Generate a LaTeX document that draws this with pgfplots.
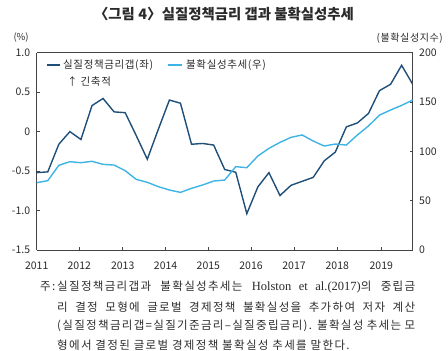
\documentclass[border=0pt]{standalone}
\usepackage{fontspec}
\setmainfont{Noto Sans CJK KR}
\newfontfamily\notefont{Noto Sans CJK KR}[LetterSpace=11.5]
\newfontfamily\legfont{Noto Sans CJK KR}[LetterSpace=6]
\newfontfamily\noteserif{Liberation Serif}
\usepackage{pgfplots}
\pgfplotsset{compat=1.18}
\definecolor{darkline}{HTML}{1F4E79}
\definecolor{lightline}{HTML}{3DB4E5}
\definecolor{axisgray}{HTML}{444444}
\definecolor{txt}{HTML}{2A2A2A}
\pgfplotstableread{
i gap trend
0 -0.52 68.2
1 -0.51 70.3
2 -0.16 85.8
3 0.00 89.5
4 -0.10 88.5
5 0.33 89.9
6 0.42 86.8
7 0.25 86.1
8 0.24 80.4
9 -0.05 71.6
10 -0.35 68.6
11 0.03 64.2
12 0.40 60.8
13 0.36 58.4
14 -0.16 62.5
15 -0.15 65.9
16 -0.17 69.9
17 -0.48 70.9
18 -0.515 84.5
19 -1.04 83.4
20 -0.70 95.3
21 -0.52 103.0
22 -0.81 109.1
23 -0.68 114.2
24 -0.63 116.6
25 -0.58 110.5
26 -0.37 105.4
27 -0.26 107.4
28 0.06 106.4
29 0.11 116.6
30 0.23 125.7
31 0.52 136.8
32 0.60 141.9
33 0.84 146.6
34 0.60 152.0
}\datatable
\begin{document}
\begin{tikzpicture}[x=1pt,y=1pt]
\path[use as bounding box] (0,0) rectangle (448,351);
\pgfplotsset{
  common/.style={
    scale only axis, width=376pt, height=197.3pt,
    at={(36.7pt,101pt)}, anchor=south west,
    xmin=0, xmax=34,
    axis line style={axisgray, line width=0.6pt},
    major tick style={axisgray, line width=0.6pt},
    major tick length=3pt,
    tick align=inside,
    ticklabel style={font=\fontsize{10.5}{12}\selectfont, text=txt},
    /pgf/number format/assume math mode=true,
  }
}
\begin{axis}[common,
  ymin=-1.5, ymax=1.0,
  axis y line*=left, axis x line*=bottom,
  ytick={-1.5,-1.0,-0.5,0,0.5,1.0},
  yticklabels={-1.5,-1.0,-0.5,0,0.5,1.0},
  yticklabel style={xshift=-3pt},
  xtick={0,3.85,7.78,11.66,15.52,19.38,23.27,27.18,31.16},
  xticklabels={2011,2012,2013,2014,2015,2016,2017,2018,2019},
  xticklabel style={yshift=-8.5pt},
]
\addplot[darkline, line width=1.4pt] table[x=i, y=gap] {\datatable};
\end{axis}
\begin{axis}[common,
  ymin=0, ymax=200,
  axis y line*=right, axis x line*=top,
  ytick={0,50,100,150,200},
  yticklabel style={xshift=3pt},
  xtick=\empty,
]
\addplot[lightline, line width=1.4pt] table[x=i, y=trend] {\datatable};
\end{axis}
% title
\node[font=\fontsize{14.4}{16}\selectfont\bfseries, text=txt] at (224,337) {〈그림 4〉\kern-0.2em{} 실질정책금리 갭과 불확실성추세};
\node[anchor=west, font=\fontsize{9.5}{11}\selectfont, text=txt] at (10,313) {(\%)};
\node[anchor=east, font=\legfont\fontsize{10}{11}\selectfont, text=txt, inner sep=0pt] at (443,313) {(불확실성지수)};
% legend
\draw[darkline, line width=1.4pt] (47,286) -- (60,286);
\node[anchor=west, inner sep=0pt, font=\legfont\fontsize{10.5}{12}\selectfont, text=txt] at (63,286) {실질정책금리갭(좌)};
\draw[lightline, line width=1.4pt] (168,286) -- (182,286);
\node[anchor=west, inner sep=0pt, font=\legfont\fontsize{10.5}{12}\selectfont, text=txt] at (186,286) {불확실성추세(우)};
\node[anchor=west, inner sep=0pt, font=\legfont\fontsize{10.5}{12}\selectfont, text=txt] at (67,270) {↑ 긴축적};
% notes
\begin{scope}[every node/.style={anchor=west, inner sep=0pt, font=\notefont\fontsize{11.5}{14}\selectfont, text=txt}]
\node at (40,64) {주:};
\node at (57,64) {\makebox[358pt][s]{실질정책금리갭과 불확실성추세는 {\noteserif\fontsize{12.5}{14}\selectfont Holston et al.(2017)}의 중립금}};
\node at (57,44) {\makebox[358pt][s]{리 결정 모형에 글로벌 경제정책 불확실성을 추가하여 저자 계산}};
\node at (57,25) {\makebox[358pt][s]{(실질정책금리갭=실질기준금리–실질중립금리). 불확실성 추세는 모}};
\node at (57,6) {형에서 결정된 글로벌 경제정책 불확실성 추세를 말한다.};
\end{scope}
\end{tikzpicture}
\end{document}
